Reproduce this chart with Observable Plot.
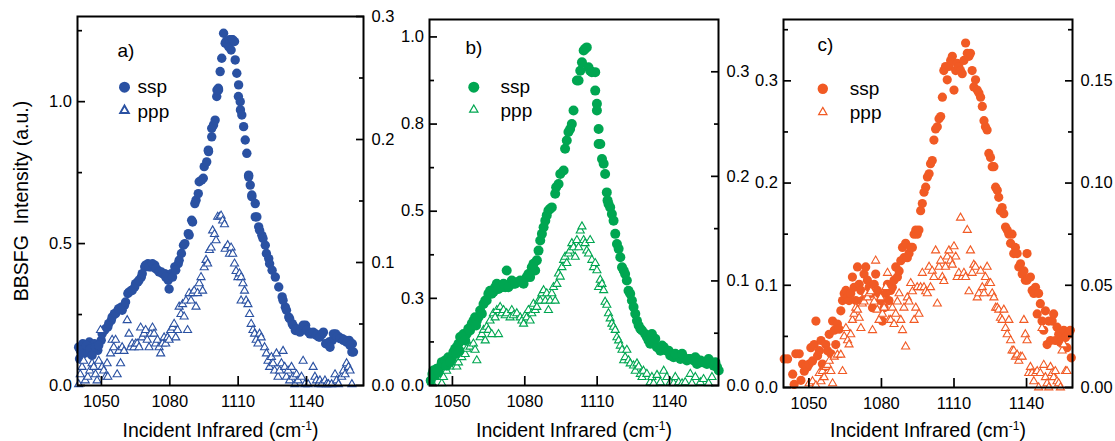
<!DOCTYPE html>
<html><head><meta charset="utf-8">
<script src="https://cdn.jsdelivr.net/npm/d3@7"></script>
<script src="https://cdn.jsdelivr.net/npm/@observablehq/plot@0.6"></script>
<style>
body{margin:0;background:#fff;}
#chart{position:relative;width:1115px;height:441px;overflow:hidden;background:#fff;}
#chart svg{position:absolute;top:0;overflow:visible;}
</style></head><body><div id="chart"></div>
<script>
// ---------- data (x = incident IR wavenumber cm-1, value = intensity a.u.) ----------
const xTicks = [1050, 1080, 1110, 1140];
const xTitle = "Incident Infrared (cm-1)";
const yTitle = "BBSFG  Intensity (a.u.)";
const seriesNames = ["ssp", "ppp"];
const panelLabels = ["a)", "b)", "c)"];

// panel a
const aLeftTicks = [0, 0.5, 1.0];
const aLeftLabels = ["0.0", "0.5", "1.0"];
const aLeftMinor = [0.25, 0.75, 1.25];
const aRightTicks = [0, 0.1, 0.2, 0.3];
const aRightLabels = ["0.0", "0.1", "0.2", "0.3"];
const aRightMinor = [0.05, 0.15, 0.25];
const aSsp = [[1040.0,0.135],[1040.4,0.094],[1041.8,0.147],[1043.2,0.129],[1044.7,0.153],[1045.4,0.111],[1046.9,0.147],[1048.4,0.124],[1049.9,0.159],[1051.3,0.194],[1052.8,0.206],[1054.3,0.229],[1055.7,0.253],[1057.2,0.265],[1058.7,0.276],[1060.1,0.282],[1061.6,0.324],[1063.1,0.335],[1064.6,0.347],[1066.0,0.365],[1067.5,0.382],[1069.0,0.418],[1070.4,0.429],[1071.9,0.418],[1073.4,0.424],[1074.8,0.406],[1076.3,0.400],[1077.8,0.394],[1079.3,0.371],[1079.7,0.340],[1080.7,0.394],[1082.2,0.418],[1083.7,0.429],[1085.1,0.465],[1086.0,0.494],[1086.6,0.500],[1088.1,0.535],[1088.5,0.530],[1089.6,0.582],[1090.0,0.576],[1091.0,0.641],[1091.5,0.653],[1092.5,0.676],[1092.9,0.718],[1094.0,0.724],[1094.7,0.730],[1095.1,0.771],[1096.2,0.788],[1096.9,0.829],[1097.0,0.824],[1098.4,0.876],[1098.4,0.906],[1099.2,0.918],[1099.9,0.935],[1100.6,1.018],[1100.7,1.041],[1101.3,1.047],[1101.4,1.041],[1102.1,1.106],[1102.8,1.153],[1103.6,1.241],[1104.3,1.206],[1104.7,1.212],[1105.8,1.194],[1106.2,1.218],[1106.9,1.182],[1107.2,1.218],[1107.6,1.218],[1108.4,1.212],[1108.7,1.147],[1109.4,1.100],[1110.1,1.018],[1110.2,1.059],[1110.9,1.000],[1111.0,0.971],[1111.6,0.953],[1112.4,0.912],[1113.1,0.865],[1113.8,0.818],[1114.6,0.741],[1114.6,0.735],[1115.3,0.706],[1116.0,0.671],[1116.0,0.665],[1117.5,0.641],[1117.5,0.594],[1118.2,0.594],[1119.0,0.559],[1119.4,0.547],[1120.4,0.529],[1120.9,0.518],[1121.9,0.494],[1122.4,0.465],[1123.4,0.447],[1123.8,0.429],[1124.9,0.406],[1126.3,0.382],[1127.8,0.347],[1129.3,0.312],[1130.7,0.276],[1132.2,0.241],[1133.7,0.218],[1135.1,0.194],[1136.6,0.194],[1138.1,0.200],[1139.6,0.212],[1141.0,0.188],[1142.5,0.182],[1144.0,0.182],[1145.4,0.171],[1146.9,0.182],[1148.4,0.147],[1149.9,0.153],[1151.3,0.159],[1152.8,0.182],[1154.3,0.171],[1155.7,0.165],[1157.2,0.159],[1158.7,0.159],[1160.1,0.147],[1160.6,0.118],
  [1040.7,0.124],[1042.2,0.112],[1043.4,0.141],[1044.9,0.129],[1045.9,0.106],[1047.4,0.135],[1048.8,0.141],[1050.3,0.182],[1051.8,0.200],[1053.2,0.218],[1054.7,0.241],[1056.2,0.253],[1057.6,0.271],[1059.1,0.265],[1060.6,0.294],[1062.1,0.329],[1063.5,0.335],[1065.0,0.359],[1066.5,0.371],[1067.9,0.394],[1069.4,0.424],[1070.9,0.418],[1072.4,0.429],[1073.8,0.412],[1075.3,0.400],[1076.8,0.394],[1078.2,0.382],[1081.2,0.382],[1082.6,0.406],[1084.1,0.441],[1129.7,0.300],[1131.2,0.265],[1132.6,0.235],[1134.1,0.212],[1135.6,0.200],[1137.1,0.188],[1138.5,0.212],[1140.0,0.194],[1141.5,0.182],[1142.9,0.188],[1144.4,0.176],[1145.9,0.171],[1147.4,0.188],[1148.8,0.147],[1150.3,0.135],[1151.8,0.182],[1153.2,0.171],[1154.7,0.165],[1156.2,0.159],[1157.6,0.153],[1159.1,0.141],[1159.9,0.118]];
const aPpp = [[1040.0,0.001],[1040.7,0.009],[1041.5,0.015],[1042.2,0.020],[1042.9,0.004],[1044.0,0.007],[1044.9,0.012],[1045.9,0.018],[1046.6,0.015],[1047.4,0.009],[1048.1,0.004],[1048.8,0.020],[1049.6,0.045],[1050.3,0.015],[1051.0,0.012],[1051.8,0.007],[1052.5,0.018],[1052.8,0.007],[1054.0,0.026],[1054.7,0.037],[1055.4,0.031],[1056.2,0.037],[1056.9,0.009],[1057.6,0.028],[1058.4,0.018],[1059.1,0.031],[1059.9,0.028],[1061.3,0.053],[1062.1,0.042],[1062.8,0.031],[1063.5,0.034],[1064.3,0.031],[1065.0,0.034],[1065.7,0.034],[1066.5,0.031],[1067.2,0.047],[1067.9,0.039],[1068.7,0.042],[1069.4,0.045],[1070.1,0.037],[1070.9,0.031],[1071.6,0.042],[1072.4,0.047],[1073.1,0.042],[1073.8,0.034],[1074.6,0.037],[1075.3,0.031],[1076.0,0.026],[1076.8,0.034],[1077.5,0.039],[1078.2,0.034],[1079.0,0.039],[1079.7,0.037],[1080.4,0.045],[1081.2,0.047],[1081.9,0.050],[1082.6,0.039],[1083.4,0.045],[1084.1,0.064],[1084.9,0.058],[1085.6,0.066],[1086.3,0.056],[1087.1,0.069],[1087.8,0.045],[1088.5,0.075],[1089.3,0.069],[1090.0,0.075],[1090.7,0.077],[1091.5,0.064],[1092.2,0.075],[1092.9,0.083],[1093.7,0.088],[1094.4,0.077],[1095.1,0.096],[1095.9,0.102],[1096.6,0.099],[1097.4,0.110],[1098.1,0.112],[1098.8,0.126],[1099.6,0.123],[1100.3,0.118],[1101.0,0.137],[1101.8,0.137],[1102.5,0.138],[1103.2,0.134],[1104.0,0.131],[1104.3,0.111],[1105.4,0.114],[1106.2,0.107],[1106.9,0.112],[1107.6,0.107],[1108.4,0.099],[1109.1,0.093],[1109.9,0.088],[1110.6,0.091],[1111.3,0.088],[1112.1,0.083],[1112.8,0.077],[1111.3,0.069],[1113.5,0.069],[1114.3,0.066],[1115.0,0.058],[1115.7,0.050],[1116.5,0.045],[1117.2,0.042],[1117.9,0.037],[1118.7,0.034],[1119.4,0.042],[1120.1,0.039],[1121.6,0.031],[1122.4,0.026],[1123.1,0.020],[1123.8,0.015],[1124.6,0.023],[1125.3,0.018],[1126.0,0.012],[1126.8,0.026],[1127.5,0.007],[1128.2,0.012],[1129.0,0.018],[1129.7,0.028],[1130.4,0.015],[1131.2,0.007],[1131.9,0.012],[1132.6,0.004],[1133.4,0.015],[1134.1,0.007],[1134.9,0.001],[1135.6,0.009],[1136.3,0.004],[1137.8,0.007],[1138.5,0.020],[1139.3,0.001],[1140.7,0.001],[1142.9,0.015],[1143.7,0.007],[1144.4,0.004],[1145.1,0.001],[1145.9,0.004],[1146.6,0.001],[1148.1,0.004],[1148.8,0.001],[1149.6,0.001],[1151.0,0.001],[1152.5,0.009],[1153.2,0.004],[1154.0,0.001],[1155.4,0.007],[1156.2,0.012],[1156.9,0.009],[1157.6,0.018],[1158.4,0.015],[1159.1,0.012],[1159.9,0.001]];

// panel b
const bLeftTicks = [0, 0.25, 0.5, 0.75, 1.0];
const bLeftLabels = ["0.0", "0.3", "0.5", "0.8", "1.0"];
const bLeftMinor = [0.125, 0.375, 0.625, 0.875];
const bRightTicks = [0, 0.1, 0.2, 0.3];
const bRightLabels = ["0.0", "0.1", "0.2", "0.3"];
const bRightMinor = [0.05, 0.15, 0.25];
const bSsp = [[1041.0,0.014],[1042.1,0.043],[1042.8,0.029],[1043.5,0.048],[1044.9,0.053],[1045.6,0.067],[1046.3,0.062],[1047.0,0.072],[1048.3,0.081],[1049.7,0.076],[1050.4,0.096],[1051.1,0.105],[1051.8,0.110],[1052.5,0.120],[1053.2,0.139],[1053.9,0.134],[1054.6,0.148],[1055.9,0.148],[1056.6,0.163],[1058.0,0.177],[1058.7,0.186],[1059.4,0.196],[1060.1,0.186],[1060.8,0.196],[1061.5,0.215],[1062.9,0.234],[1063.6,0.244],[1064.9,0.263],[1065.6,0.272],[1066.3,0.263],[1067.7,0.282],[1068.4,0.292],[1070.5,0.282],[1071.9,0.282],[1072.5,0.330],[1073.9,0.292],[1074.6,0.301],[1075.3,0.292],[1076.7,0.296],[1078.1,0.301],[1079.5,0.292],[1080.8,0.311],[1082.2,0.311],[1082.9,0.339],[1084.3,0.330],[1085.0,0.359],[1085.7,0.387],[1086.4,0.416],[1087.1,0.435],[1087.8,0.454],[1088.5,0.473],[1089.1,0.488],[1089.8,0.502],[1090.5,0.507],[1091.2,0.511],[1092.6,0.550],[1093.0,0.569],[1094.0,0.578],[1094.7,0.607],[1096.1,0.617],[1096.7,0.679],[1097.4,0.703],[1098.1,0.727],[1098.8,0.736],[1099.5,0.750],[1100.2,0.789],[1101.6,0.875],[1102.3,0.875],[1103.0,0.903],[1103.7,0.927],[1104.4,0.961],[1105.0,0.966],[1105.7,0.970],[1106.4,0.913],[1107.1,0.903],[1107.8,0.899],[1109.2,0.899],[1109.2,0.846],[1109.9,0.808],[1109.9,0.789],[1110.6,0.736],[1110.6,0.693],[1111.3,0.693],[1112.0,0.650],[1112.7,0.636],[1113.3,0.607],[1114.0,0.554],[1114.3,0.531],[1114.7,0.521],[1115.4,0.511],[1116.1,0.492],[1116.8,0.473],[1117.5,0.435],[1118.2,0.406],[1118.9,0.392],[1119.6,0.368],[1120.3,0.339],[1121.0,0.330],[1121.6,0.320],[1122.3,0.301],[1123.0,0.272],[1123.7,0.263],[1124.4,0.244],[1125.1,0.225],[1125.8,0.206],[1126.5,0.186],[1127.2,0.172],[1127.9,0.163],[1128.6,0.158],[1129.9,0.148],[1130.6,0.139],[1131.3,0.129],[1132.0,0.120],[1133.4,0.120],[1134.8,0.110],[1136.2,0.100],[1137.6,0.110],[1138.9,0.100],[1140.3,0.086],[1141.7,0.081],[1143.1,0.086],[1144.5,0.076],[1145.8,0.081],[1147.2,0.072],[1148.6,0.076],[1150.0,0.072],[1151.4,0.062],[1152.8,0.072],[1154.1,0.067],[1155.5,0.062],[1156.9,0.067],[1158.3,0.057],[1159.7,0.053],[1160.4,0.043],
  [1041.7,0.033],[1044.2,0.038],[1047.6,0.057],[1049.0,0.067],[1051.5,0.091],[1052.9,0.100],[1055.3,0.129],[1057.3,0.158],[1059.8,0.172],[1062.2,0.206],[1064.2,0.244],[1067.0,0.268],[1069.1,0.277],[1071.2,0.292],[1073.2,0.282],[1076.0,0.292],[1078.8,0.296],[1081.5,0.320],[1083.6,0.349],[1132.7,0.148],[1134.1,0.134],[1136.9,0.115],[1139.6,0.100],[1142.4,0.091],[1145.2,0.091],[1147.9,0.076],[1150.7,0.081],[1153.5,0.067],[1156.2,0.076],[1159.0,0.067]];
const bPpp = [[1041.4,0.003],[1042.8,0.008],[1044.2,0.011],[1045.6,0.002],[1046.3,0.008],[1047.6,0.014],[1049.0,0.018],[1050.4,0.024],[1051.8,0.018],[1052.5,0.022],[1053.9,0.027],[1055.3,0.030],[1055.9,0.035],[1057.3,0.037],[1058.7,0.040],[1059.4,0.034],[1060.1,0.024],[1061.5,0.046],[1062.2,0.049],[1062.9,0.053],[1063.6,0.043],[1064.2,0.056],[1064.9,0.053],[1065.6,0.062],[1066.3,0.049],[1067.0,0.069],[1067.7,0.065],[1068.4,0.072],[1069.1,0.049],[1069.8,0.075],[1070.5,0.069],[1071.2,0.072],[1071.9,0.067],[1072.5,0.069],[1073.9,0.065],[1074.6,0.072],[1075.3,0.067],[1076.7,0.069],[1078.1,0.065],[1078.8,0.062],[1079.5,0.059],[1080.2,0.067],[1080.8,0.065],[1081.5,0.072],[1082.2,0.062],[1082.9,0.069],[1083.6,0.078],[1084.3,0.072],[1085.0,0.075],[1085.7,0.081],[1086.4,0.081],[1087.1,0.088],[1087.8,0.091],[1088.5,0.081],[1089.1,0.088],[1089.8,0.072],[1090.5,0.081],[1091.2,0.088],[1091.9,0.094],[1092.6,0.081],[1093.3,0.097],[1094.0,0.107],[1094.7,0.104],[1095.4,0.113],[1096.1,0.120],[1096.7,0.123],[1097.4,0.117],[1098.1,0.126],[1098.8,0.129],[1099.5,0.136],[1100.2,0.132],[1100.9,0.123],[1101.6,0.139],[1102.3,0.132],[1103.0,0.148],[1103.7,0.152],[1104.4,0.139],[1105.0,0.136],[1105.7,0.129],[1106.4,0.126],[1107.1,0.139],[1107.8,0.120],[1108.5,0.113],[1109.2,0.117],[1109.9,0.110],[1110.6,0.094],[1111.3,0.101],[1112.0,0.097],[1112.7,0.091],[1113.3,0.080],[1114.0,0.077],[1114.7,0.069],[1115.4,0.064],[1116.1,0.059],[1116.8,0.056],[1117.5,0.053],[1118.2,0.046],[1118.9,0.043],[1119.6,0.038],[1120.3,0.034],[1121.0,0.024],[1121.6,0.027],[1122.3,0.034],[1123.0,0.024],[1123.7,0.021],[1125.1,0.019],[1125.8,0.014],[1126.5,0.021],[1127.2,0.018],[1127.9,0.011],[1128.6,0.008],[1129.2,0.014],[1130.6,0.011],[1132.0,0.003],[1132.7,0.008],[1133.4,0.002],[1134.8,0.010],[1136.2,0.003],[1137.6,0.014],[1138.9,0.008],[1140.3,0.003],[1141.7,0.002],[1142.4,0.008],[1143.8,0.003],[1145.2,0.002],[1146.5,0.003],[1148.6,0.011],[1149.3,0.002],[1150.7,0.008],[1152.8,0.003],[1154.1,0.006],[1156.2,0.002],[1157.6,0.008]];

// panel c
const cLeftTicks = [0, 0.1, 0.2, 0.3];
const cLeftLabels = ["0.0", "0.1", "0.2", "0.3"];
const cLeftMinor = [0.05, 0.15, 0.25, 0.35];
const cRightTicks = [0, 0.05, 0.10, 0.15];
const cRightLabels = ["0.00", "0.05", "0.10", "0.15"];
const cRightMinor = [0.025, 0.075, 0.125, 0.175];
const cSsp = [[1039.8,0.028],[1041.2,0.028],[1043.3,0.013],[1043.9,0.003],[1044.6,0.033],[1046.0,0.033],[1046.7,0.007],[1047.4,0.023],[1048.1,0.016],[1048.8,0.021],[1049.4,0.020],[1050.1,0.023],[1050.8,0.039],[1051.5,0.026],[1052.2,0.042],[1052.9,0.065],[1053.6,0.031],[1054.3,0.036],[1055.0,0.046],[1055.6,0.023],[1056.3,0.020],[1057.0,0.042],[1057.7,0.036],[1058.4,0.052],[1059.1,0.033],[1059.8,0.065],[1060.5,0.056],[1061.1,0.042],[1061.8,0.062],[1062.5,0.057],[1063.2,0.075],[1063.9,0.085],[1064.6,0.092],[1065.3,0.095],[1066.0,0.088],[1066.6,0.085],[1067.3,0.092],[1068.0,0.108],[1068.7,0.098],[1069.4,0.085],[1070.1,0.118],[1070.8,0.101],[1071.5,0.095],[1072.1,0.085],[1072.8,0.111],[1073.5,0.118],[1074.2,0.105],[1074.9,0.098],[1075.6,0.092],[1076.3,0.078],[1077.0,0.101],[1077.6,0.111],[1078.3,0.095],[1079.0,0.092],[1079.7,0.085],[1080.4,0.065],[1081.1,0.078],[1081.8,0.092],[1082.5,0.101],[1083.1,0.085],[1083.8,0.095],[1084.5,0.098],[1085.2,0.105],[1085.9,0.118],[1086.6,0.108],[1087.3,0.114],[1088.0,0.124],[1088.7,0.137],[1089.3,0.127],[1090.0,0.141],[1090.7,0.127],[1091.4,0.131],[1092.1,0.137],[1092.8,0.137],[1093.5,0.150],[1094.2,0.154],[1094.8,0.150],[1095.5,0.154],[1096.2,0.173],[1096.9,0.180],[1097.6,0.191],[1098.3,0.196],[1099.0,0.206],[1099.7,0.209],[1100.3,0.219],[1101.0,0.222],[1101.7,0.242],[1102.4,0.253],[1103.1,0.255],[1103.8,0.263],[1104.5,0.265],[1105.2,0.284],[1105.8,0.310],[1106.5,0.314],[1107.2,0.301],[1107.9,0.314],[1108.6,0.320],[1109.3,0.324],[1110.0,0.291],[1110.7,0.310],[1111.3,0.317],[1112.0,0.314],[1112.7,0.310],[1113.4,0.307],[1114.1,0.320],[1114.8,0.337],[1115.5,0.327],[1116.2,0.324],[1116.8,0.327],[1117.5,0.310],[1118.2,0.294],[1118.9,0.301],[1119.6,0.291],[1120.3,0.288],[1121.0,0.284],[1121.7,0.275],[1122.4,0.261],[1123.0,0.255],[1123.7,0.252],[1124.4,0.229],[1125.1,0.225],[1125.8,0.216],[1126.5,0.216],[1127.2,0.196],[1127.9,0.193],[1128.5,0.186],[1129.2,0.173],[1129.9,0.176],[1130.6,0.170],[1131.3,0.157],[1132.0,0.154],[1132.7,0.150],[1133.4,0.141],[1134.0,0.150],[1134.7,0.131],[1135.4,0.137],[1136.1,0.131],[1136.8,0.118],[1137.5,0.121],[1138.2,0.111],[1138.9,0.114],[1139.5,0.105],[1140.2,0.105],[1140.2,0.131],[1141.6,0.108],[1142.3,0.095],[1143.0,0.092],[1143.7,0.098],[1144.4,0.072],[1145.0,0.092],[1145.7,0.082],[1146.4,0.065],[1147.1,0.056],[1147.8,0.075],[1148.5,0.042],[1149.2,0.065],[1149.9,0.046],[1150.6,0.065],[1151.2,0.072],[1151.9,0.046],[1152.6,0.059],[1153.3,0.052],[1154.0,0.044],[1154.7,0.046],[1155.4,0.056],[1156.1,0.049],[1156.7,0.039],[1157.4,0.052],[1158.1,0.056],[1158.5,0.029]];
const cPpp = [[1050.1,0.002],[1051.5,0.003],[1052.9,0.001],[1054.3,0.007],[1055.0,0.003],[1055.6,0.008],[1056.3,0.005],[1057.0,0.010],[1057.7,0.011],[1058.4,0.013],[1059.1,0.008],[1059.8,0.002],[1060.5,0.015],[1061.8,0.016],[1063.2,0.016],[1063.9,0.008],[1064.6,0.025],[1065.3,0.029],[1066.0,0.023],[1066.6,0.021],[1067.3,0.026],[1068.0,0.033],[1068.7,0.036],[1069.4,0.039],[1070.1,0.038],[1070.8,0.034],[1071.5,0.029],[1072.1,0.041],[1072.8,0.042],[1073.5,0.046],[1074.2,0.044],[1074.9,0.046],[1075.6,0.047],[1076.3,0.028],[1077.0,0.042],[1077.6,0.062],[1078.3,0.038],[1079.0,0.033],[1079.7,0.044],[1080.4,0.036],[1081.1,0.039],[1081.8,0.049],[1082.5,0.056],[1083.1,0.033],[1083.8,0.033],[1084.5,0.039],[1085.2,0.031],[1085.9,0.036],[1086.6,0.042],[1087.3,0.046],[1088.0,0.033],[1088.7,0.028],[1089.3,0.039],[1090.0,0.020],[1090.7,0.044],[1091.4,0.042],[1092.1,0.051],[1092.8,0.047],[1093.5,0.033],[1094.2,0.039],[1094.8,0.049],[1095.5,0.036],[1096.2,0.049],[1096.9,0.056],[1097.6,0.049],[1098.3,0.047],[1099.0,0.046],[1099.7,0.059],[1100.3,0.049],[1101.0,0.057],[1101.7,0.054],[1102.4,0.067],[1103.1,0.041],[1103.8,0.059],[1104.5,0.062],[1105.2,0.054],[1105.8,0.052],[1106.5,0.059],[1107.2,0.064],[1107.9,0.067],[1108.6,0.062],[1109.3,0.060],[1110.0,0.069],[1110.7,0.064],[1111.3,0.054],[1112.0,0.056],[1112.7,0.083],[1113.4,0.054],[1114.1,0.056],[1114.8,0.054],[1115.5,0.077],[1116.2,0.047],[1116.8,0.067],[1117.5,0.056],[1118.2,0.060],[1118.9,0.059],[1119.6,0.044],[1120.3,0.046],[1121.0,0.057],[1121.7,0.049],[1122.4,0.046],[1123.0,0.054],[1123.7,0.059],[1124.4,0.051],[1125.1,0.051],[1125.8,0.046],[1126.5,0.044],[1127.2,0.039],[1127.9,0.039],[1128.5,0.038],[1129.2,0.034],[1129.9,0.033],[1130.6,0.038],[1131.3,0.029],[1132.0,0.026],[1132.7,0.033],[1133.4,0.023],[1134.0,0.018],[1134.7,0.018],[1135.4,0.015],[1136.1,0.016],[1136.8,0.013],[1137.5,0.015],[1138.2,0.015],[1138.9,0.033],[1139.5,0.026],[1140.2,0.023],[1140.9,0.007],[1141.6,0.010],[1142.3,0.007],[1143.0,0.003],[1143.7,0.007],[1144.4,0.008],[1145.0,0.000],[1145.7,0.007],[1146.4,0.029],[1147.1,0.011],[1147.8,0.005],[1148.5,0.002],[1149.2,0.000],[1149.9,0.010],[1150.6,0.007],[1151.2,0.005],[1151.9,0.008],[1152.6,0.003],[1153.3,0.002],[1154.0,0.000],[1154.7,0.018],[1155.4,0.021],[1156.1,0.008],[1156.7,0.008]];

// ---------- rendering ----------
const FONT = '"Liberation Sans", Arial, Helvetica, sans-serif';
const panels = [
  {left:0, width:400, ml:77, mr:37, mt:16, mb:56, xDomain:[1039.5,1165], yTop:1.30, rTop:0.30,
   color:"#2a51a2", ssp:aSsp, ppp:aPpp, lT:aLeftTicks, lL:aLeftLabels, lM:aLeftMinor, rT:aRightTicks, rL:aRightLabels, rM:aRightMinor,
   label:panelLabels[0], labDx:40, labDy:34, legDx:47, legDy:70.7, legTxt:60, legDy2:94, r:4.7, legR:5.5, legTriR:3.2, legTriW:1.9, circlesOnTop:false, yTitle:true, xtDy:45},
  {left:380, width:360, ml:49, mr:22, mt:19, mb:56, xDomain:[1040.5,1160.3], yTop:1.05, rTop:0.35,
   color:"#00a651", ssp:bSsp, ppp:bPpp, lT:bLeftTicks, lL:bLeftLabels, lM:bLeftMinor, rT:bRightTicks, rL:bRightLabels, rM:bRightMinor,
   label:panelLabels[1], labDx:36, labDy:28, legDx:44.3, legDy:67.7, legTxt:71, legDy2:90.3, r:5, legR:5.5, legTriR:3.1, legTriW:1.2, circlesOnTop:true, yTitle:false, xtDy:45},
  {left:750, width:365, ml:33, mr:43, mt:19, mb:54, xDomain:[1039.5,1159], yTop:0.36, rTop:0.18,
   color:"#f15a24", ssp:cSsp, ppp:cPpp, lT:cLeftTicks, lL:cLeftLabels, lM:cLeftMinor, rT:cRightTicks, rL:cRightLabels, rM:cRightMinor,
   label:panelLabels[2], labDx:34, labDy:25, legDx:39.3, legDy:69.3, legTxt:66.3, legDy2:92.7, r:4.6, legR:5.2, legTriR:3.1, legTriW:1.2, circlesOnTop:false, yTitle:false, xtDy:43}
];

const chart = document.getElementById("chart");

function makePanel(p) {
  const k = p.yTop / p.rTop;
  const ssp = p.ssp.map(([x, v]) => ({x, v}));
  const ppp = p.ppp.map(([x, v]) => ({x, v}));
  const rScaled = p.rT.map(v => v * k);
  const rMinorScaled = p.rM.map(v => v * k);
  const sspMark = Plot.dot(ssp, {x: "x", y: "v", r: p.r, fill: p.color});
  const pppMark = Plot.dot(ppp, {x: "x", y: d => d.v * k, r: 3, symbol: "triangle", stroke: p.color, fill: "white", strokeWidth: 1.1});
  const dataMarks = p.circlesOnTop ? [pppMark, sspMark] : [sspMark, pppMark];
  const tw = 1.7;
  const noText = () => "";
  const marks = [
    ...dataMarks,
    Plot.frame({stroke: "black", strokeWidth: 2}),
    // inward tick marks (outward ticks shifted back inside the frame)
    Plot.axisX({ticks: xTicks, anchor: "bottom", tickSize: 9, dy: -9, tickFormat: noText, label: null, stroke: "black", strokeWidth: tw}),
    Plot.axisY({ticks: p.lT, anchor: "left", tickSize: 8, dx: 8, tickFormat: noText, label: null, stroke: "black", strokeWidth: tw}),
    Plot.axisY({ticks: p.lM, anchor: "left", tickSize: 5, dx: 5, tickFormat: noText, label: null, stroke: "black", strokeWidth: tw}),
    Plot.axisY({ticks: rScaled, anchor: "right", tickSize: 8, dx: -8, tickFormat: noText, label: null, stroke: "black", strokeWidth: tw}),
    Plot.axisY({ticks: rMinorScaled, anchor: "right", tickSize: 5, dx: -5, tickFormat: noText, label: null, stroke: "black", strokeWidth: tw}),
    // tick labels
    Plot.axisX({ticks: xTicks, anchor: "bottom", tickSize: 0, tickPadding: 10, tickFormat: d => String(d), label: null}),
    Plot.axisY({ticks: p.lT, anchor: "left", tickSize: 0, tickPadding: 5.5, tickFormat: d => p.lL[p.lT.indexOf(d)], label: null}),
    Plot.axisY({ticks: rScaled, anchor: "right", tickSize: 0, tickPadding: 8, tickFormat: d => p.rL[rScaled.indexOf(d)], label: null}),
    // panel label and legend
    Plot.text([p.label], {frameAnchor: "top-left", dx: p.labDx, dy: p.labDy, textAnchor: "start", lineAnchor: "middle", fontSize: 19}),
    Plot.dot([seriesNames[0]], {frameAnchor: "top-left", dx: p.legDx, dy: p.legDy, r: p.legR, fill: p.color}),
    Plot.text([seriesNames[0]], {frameAnchor: "top-left", dx: p.legTxt, dy: p.legDy, textAnchor: "start", lineAnchor: "middle", fontSize: 19}),
    Plot.dot([seriesNames[1]], {frameAnchor: "top-left", dx: p.legDx, dy: p.legDy2, r: p.legTriR, symbol: "triangle", stroke: p.color, fill: "white", strokeWidth: p.legTriW}),
    Plot.text([seriesNames[1]], {frameAnchor: "top-left", dx: p.legTxt, dy: p.legDy2 + 1, textAnchor: "start", lineAnchor: "middle", fontSize: 19}),
    Plot.text([xTitle], {frameAnchor: "bottom", dy: p.xtDy, textAnchor: "middle", lineAnchor: "middle", fontSize: 19.5})
  ];
  if (p.yTitle) marks.push(Plot.text([yTitle], {frameAnchor: "left", dx: -56, rotate: -90, textAnchor: "middle", lineAnchor: "middle", fontSize: 19.5}));
  const svg = Plot.plot({
    width: p.width, height: 441,
    marginLeft: p.ml, marginRight: p.mr, marginTop: p.mt, marginBottom: p.mb,
    style: {background: "transparent", fontFamily: FONT, fontSize: "16.5px", overflow: "visible", color: "black"},
    x: {domain: p.xDomain, label: null},
    y: {domain: [0, p.yTop], label: null},
    marks
  });
  svg.style.left = p.left + "px";
  // superscript "-1" in the x-axis title
  d3.select(svg).selectAll("text").filter(function() { return this.textContent === xTitle; }).each(function() {
    const t = d3.select(this);
    t.text(null);
    t.append("tspan").text("Incident Infrared (cm");
    t.append("tspan").attr("dy", "-7px").attr("font-size", "12px").text("-1");
    t.append("tspan").attr("dy", "7px").text(")");
  });
  chart.appendChild(svg);
}
panels.forEach(makePanel);
</script></body></html>
